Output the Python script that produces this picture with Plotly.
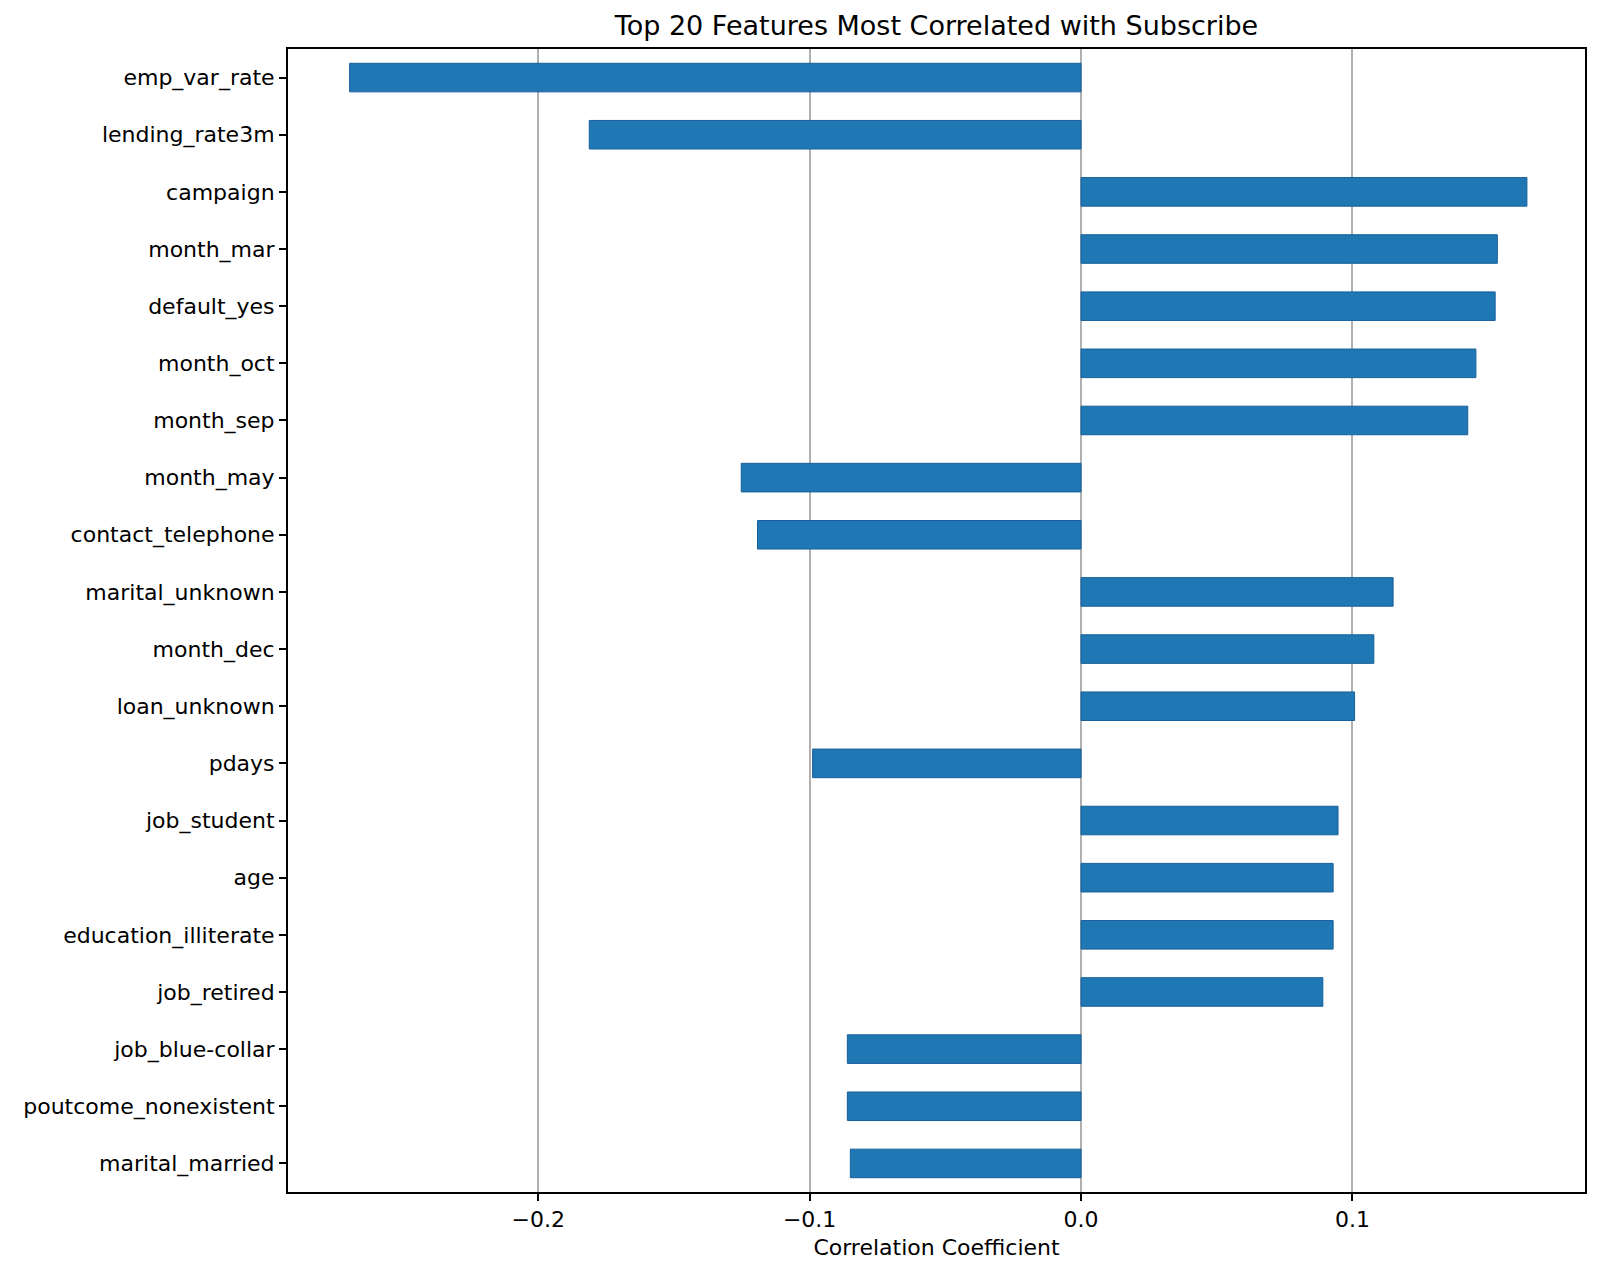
import plotly.graph_objects as go

features = ["emp_var_rate", "lending_rate3m", "campaign", "month_mar", "default_yes",
            "month_oct", "month_sep", "month_may", "contact_telephone", "marital_unknown",
            "month_dec", "loan_unknown", "pdays", "job_student", "age",
            "education_illiterate", "job_retired", "job_blue-collar",
            "poutcome_nonexistent", "marital_married"]
correlations = [-0.2695, -0.1812, 0.1643, 0.1534, 0.1526,
                0.1455, 0.1425, -0.1252, -0.1192, 0.1150,
                0.1079, 0.1008, -0.0989, 0.0947, 0.0929,
                0.0929, 0.0891, -0.0861, -0.0861, -0.0850]
x_tick_vals = [-0.2, -0.1, 0.0, 0.1]
x_tick_text = ["\u22120.2", "\u22120.1", "0.0", "0.1"]

fig = go.Figure(go.Bar(
    x=correlations, y=features, orientation="h", width=0.5,
    marker=dict(color="#1f77b4", line=dict(color="#17609a", width=1)),
))

font = "DejaVu Sans"
L, R, T, B = 288, 15, 49, 85
fig.update_layout(
    width=1600, height=1277,
    paper_bgcolor="white", plot_bgcolor="white",
    margin=dict(l=L, r=R, t=T, b=B),
    showlegend=False,
    title=dict(text="Top 20 Features Most Correlated with Subscribe",
               x=(L + 1600 - R) / 2 / 1600, xanchor="center", y=1 - 26 / 1277, yanchor="middle",
               font=dict(family=font, size=27, color="black")),
    font=dict(family=font, color="black"),
)
fig.update_xaxes(
    range=[-0.2922, 0.1857], tickvals=x_tick_vals, ticktext=x_tick_text,
    showgrid=True, gridcolor="#b0b0b0", gridwidth=1.6,
    showline=True, linecolor="black", linewidth=2, mirror=True,
    ticks="outside", ticklen=7, tickwidth=2, tickcolor="black",
    tickfont=dict(family=font, size=22), zeroline=False,
    title=dict(text="Correlation Coefficient", font=dict(family=font, size=22), standoff=8),
)
fig.update_yaxes(
    range=[19.5, -0.5], showgrid=False,
    showline=True, linecolor="black", linewidth=2, mirror=True,
    ticks="outside", ticklen=7, tickwidth=2, tickcolor="black",
    tickfont=dict(family=font, size=22),
)
fig.write_html("out.html", config={"displayModeBar": False},
               post_script="document.body.style.margin='0';document.body.style.overflow='hidden';")
